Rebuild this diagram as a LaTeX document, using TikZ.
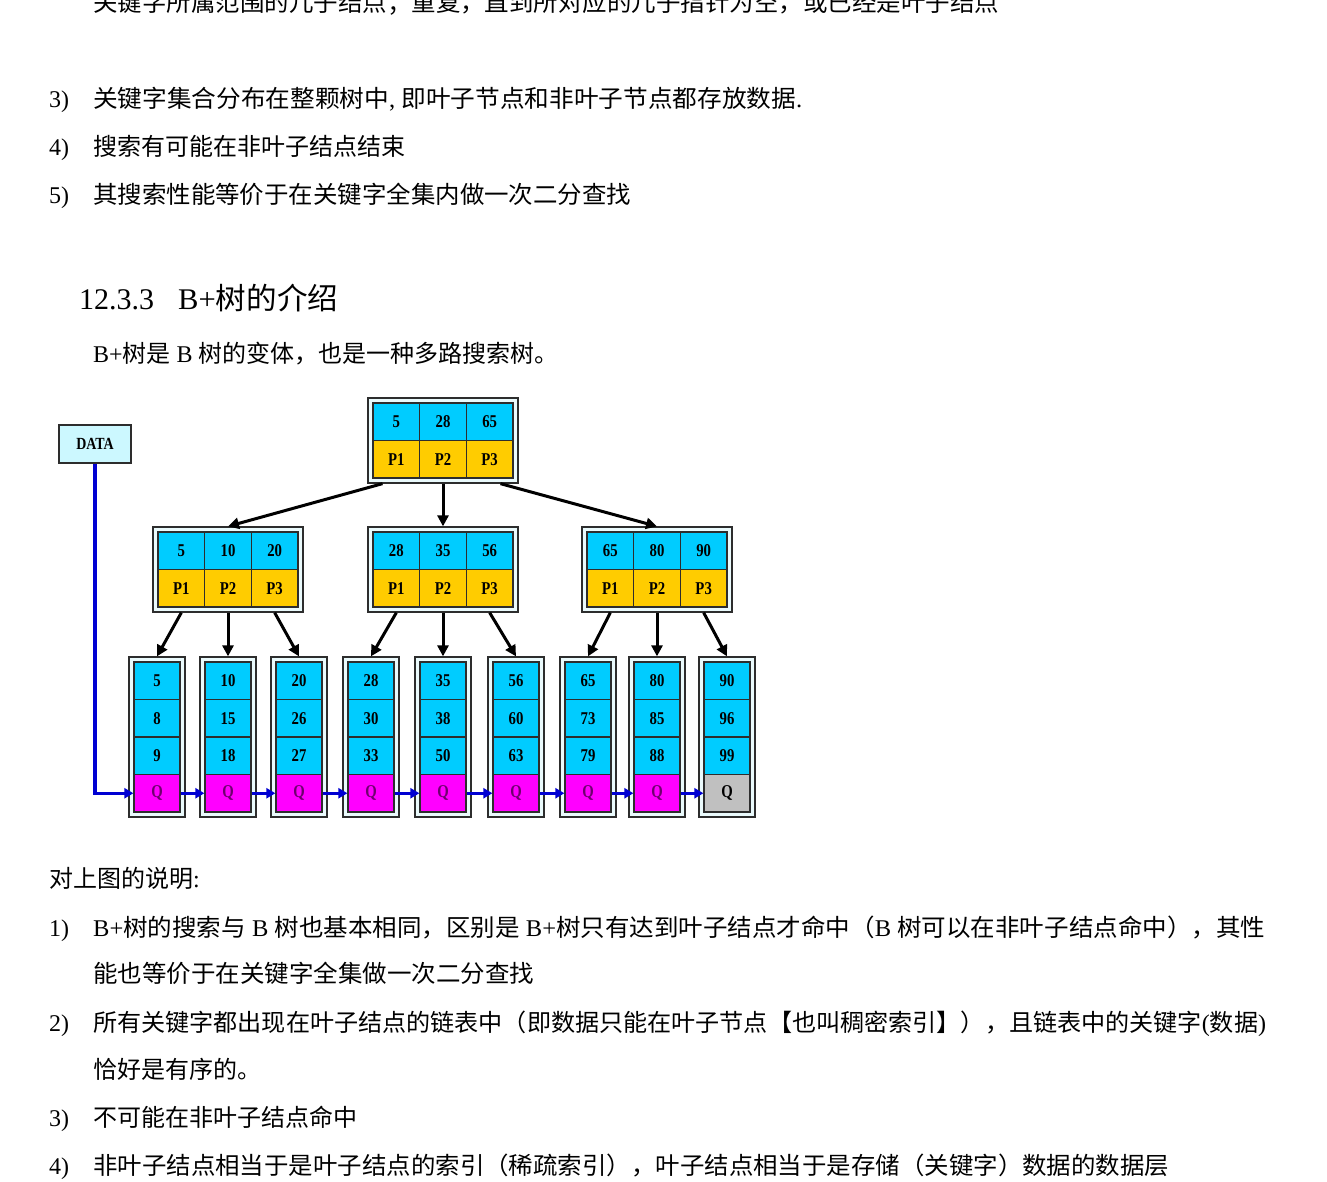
\documentclass[tikz,border=0pt]{standalone}
\usepackage{fontspec}
\usepackage{graphicx}
\setmainfont{Liberation Serif}
\newfontfamily\cjk{Noto Sans CJK SC}
\newfontfamily\lat{Liberation Serif}
\newfontfamily\latc[FakeStretch=0.82]{Liberation Serif}
\usetikzlibrary{arrows.meta,calc}
\definecolor{kcyan}{RGB}{0,204,255}
\definecolor{pyel}{RGB}{255,204,0}
\definecolor{qmag}{RGB}{255,0,255}
\definecolor{qgray}{RGB}{192,192,192}
\definecolor{framefill}{RGB}{234,250,252}
\definecolor{edgec}{RGB}{45,45,45}
\definecolor{linkblue}{RGB}{0,0,210}
\definecolor{qtext}{RGB}{110,0,110}
\definecolor{datafill}{RGB}{204,248,255}
\newlength\fitlen
\newcommand\fitw[2]{\settowidth\fitlen{#2}\pgfmathsetmacro\fitr{#1/\fitlen}\scalebox{\fitr}[1]{#2}}
\newcommand\innode[6]{%
 \node[frame,minimum width=150pt,minimum height=85pt] (#1) at ({#2+75},{#3+42.5}) {};
 \node[kcell] (#1k1) at ({#2+28.33},{#3+23.75}) {#4};
 \node[kcell] (#1k2) at ({#2+75},{#3+23.75}) {#5};
 \node[kcell] (#1k3) at ({#2+121.67},{#3+23.75}) {#6};
 \node[pcell] (#1p1) at ({#2+28.33},{#3+61.25}) {P1};
 \node[pcell] (#1p2) at ({#2+75},{#3+61.25}) {P2};
 \node[pcell] (#1p3) at ({#2+121.67},{#3+61.25}) {P3};
}
\newcommand\leafnode[6]{%
 \node[frame,minimum width=56pt,minimum height=160pt] (#1) at ({#2+28},737) {};
 \node[kcell,minimum width=46pt] (#1a) at ({#2+28},680.75) {#3};
 \node[kcell,minimum width=46pt] (#1b) at ({#2+28},718.25) {#4};
 \node[kcell,minimum width=46pt] (#1c) at ({#2+28},755.75) {#5};
 \node[#6] (#1q) at ({#2+28},793.25) {Q};
}
\begin{document}
\begin{tikzpicture}[x=1pt,y=-1pt,
 txt/.style={anchor=base west,inner sep=0pt,font=\cjk\fontsize{24}{28}\selectfont},
 lbl/.style={anchor=base west,inner sep=0pt,font=\lat\fontsize{24}{28}\selectfont},
 headn/.style={anchor=base west,inner sep=0pt,font=\lat\fontsize{30}{34}\selectfont},
 headc/.style={anchor=base west,inner sep=0pt,font=\cjk\fontsize{30}{34}\selectfont},
 frame/.style={draw=edgec,fill=framefill,line width=1.3pt,inner sep=0pt},
 cellbase/.style={draw=edgec,line width=1.2pt,inner sep=0pt,font=\latc\bfseries\fontsize{18}{19}\selectfont},
 kcell/.style={cellbase,fill=kcyan,minimum width=46.67pt,minimum height=37.5pt},
 pcell/.style={cellbase,fill=pyel,minimum width=46.67pt,minimum height=37.5pt},
 qcell/.style={cellbase,fill=qmag,text=qtext,minimum width=46pt,minimum height=37.5pt},
 qend/.style={cellbase,fill=qgray,minimum width=46pt,minimum height=37.5pt},
 tarrow/.style={draw=black,line width=3pt,-{Triangle[length=11pt,width=11pt]}},
 blink/.style={draw=linkblue,line width=3.3pt,-{Triangle[length=9pt,width=10pt]}},
 databox/.style={draw=edgec,fill=datafill,line width=1.3pt,minimum width=72pt,minimum height=38pt,inner sep=0pt,font=\latc\bfseries\fontsize{17}{18}\selectfont}
]
\useasboundingbox[fill=white] (0,0) rectangle (1327,1181);

% ---------- upper text ----------
\node[txt] (t0) at (93,11) {\fitw{906}{关键字所属范围的儿子结点；重复，直到所对应的儿子指针为空，或已经是叶子结点}};
\node[lbl] (n3) at (49,107) {3)};
\node[txt] (t3) at (93,107) {\fitw{709}{关键字集合分布在整颗树中{\lat ,\ }即叶子节点和非叶子节点都存放数据{\lat .}}};
\node[lbl] (n4) at (49,155) {4)};
\node[txt] (t4) at (93,155) {搜索有可能在非叶子结点结束};
\node[lbl] (n5) at (49,203) {5)};
\node[txt] (t5) at (93,203) {\fitw{538}{其搜索性能等价于在关键字全集内做一次二分查找}};
\node[headn] (h1) at (79,309) {12.3.3};
\node[headc] (h2) at (178,309) {\fitw{160}{{\lat B+}树的介绍}};
\node[txt] (t6) at (93,362) {{\lat B+}树是{\lat\ B\ }树的变体，也是一种多路搜索树。};

% ---------- diagram ----------
\node[databox] (data) at (95,444) {DATA};
\innode{root}{368}{398}{5}{28}{65}
\innode{ml}{153}{527}{5}{10}{20}
\innode{mc}{368}{527}{28}{35}{56}
\innode{mr}{582}{527}{65}{80}{90}
\leafnode{l1}{129}{5}{8}{9}{qcell}
\leafnode{l2}{200}{10}{15}{18}{qcell}
\leafnode{l3}{271}{20}{26}{27}{qcell}
\leafnode{l4}{343}{28}{30}{33}{qcell}
\leafnode{l5}{415}{35}{38}{50}{qcell}
\leafnode{l6}{488}{56}{60}{63}{qcell}
\leafnode{l7}{560}{65}{73}{79}{qcell}
\leafnode{l8}{629}{80}{85}{88}{qcell}
\leafnode{l9}{699}{90}{96}{99}{qend}

\draw[tarrow] ($(root.south west)!0.1!(root.south east)$) -- (ml.north);
\draw[tarrow] (root.south) -- (mc.north);
\draw[tarrow] ($(root.south west)!0.88!(root.south east)$) -- (mr.north);
\draw[tarrow] (mlp1.south |- ml.south) -- (l1.north);
\draw[tarrow] (mlp2.south |- ml.south) -- (l2.north);
\draw[tarrow] (mlp3.south |- ml.south) -- (l3.north);
\draw[tarrow] (mcp1.south |- mc.south) -- (l4.north);
\draw[tarrow] (mcp2.south |- mc.south) -- (l5.north);
\draw[tarrow] (mcp3.south |- mc.south) -- (l6.north);
\draw[tarrow] (mrp1.south |- mr.south) -- (l7.north);
\draw[tarrow] (mrp2.south |- mr.south) -- (l8.north);
\draw[tarrow] (mrp3.south |- mr.south) -- (l9.north);

\draw[blink] (data.south) |- (l1q.west);
\draw[blink] (l1q.east) -- (l2q.west);
\draw[blink] (l2q.east) -- (l3q.west);
\draw[blink] (l3q.east) -- (l4q.west);
\draw[blink] (l4q.east) -- (l5q.west);
\draw[blink] (l5q.east) -- (l6q.west);
\draw[blink] (l6q.east) -- (l7q.west);
\draw[blink] (l7q.east) -- (l8q.west);
\draw[blink] (l8q.east) -- (l9q.west);

% ---------- lower text ----------
\node[txt] (t7) at (49,887) {对上图的说明{\lat :}};
\node[lbl] (m1) at (49,936) {1)};
\node[txt] (u1) at (93,936) {\fitw{1172}{{\lat B+}树的搜索与{\lat\ B\ }树也基本相同，区别是{\lat\ B+}树只有达到叶子结点才命中（{\lat B\ }树可以在非叶子结点命中），其性}};
\node[txt] (u1b) at (93,982) {\fitw{441}{能也等价于在关键字全集做一次二分查找}};
\node[lbl] (m2) at (49,1031) {2)};
\node[txt] (u2) at (93,1031) {\fitw{1173}{所有关键字都出现在叶子结点的链表中（即数据只能在叶子节点【也叫稠密索引】），且链表中的关键字{\lat (}数据{\lat )}}};
\node[txt] (u2b) at (93,1078) {恰好是有序的。};
\node[lbl] (m3) at (49,1126) {3)};
\node[txt] (u3) at (93,1126) {不可能在非叶子结点命中};
\node[lbl] (m4) at (49,1174) {4)};
\node[txt] (u4) at (93,1174) {\fitw{1076}{非叶子结点相当于是叶子结点的索引（稀疏索引），叶子结点相当于是存储（关键字）数据的数据层}};
\end{tikzpicture}
\end{document}
